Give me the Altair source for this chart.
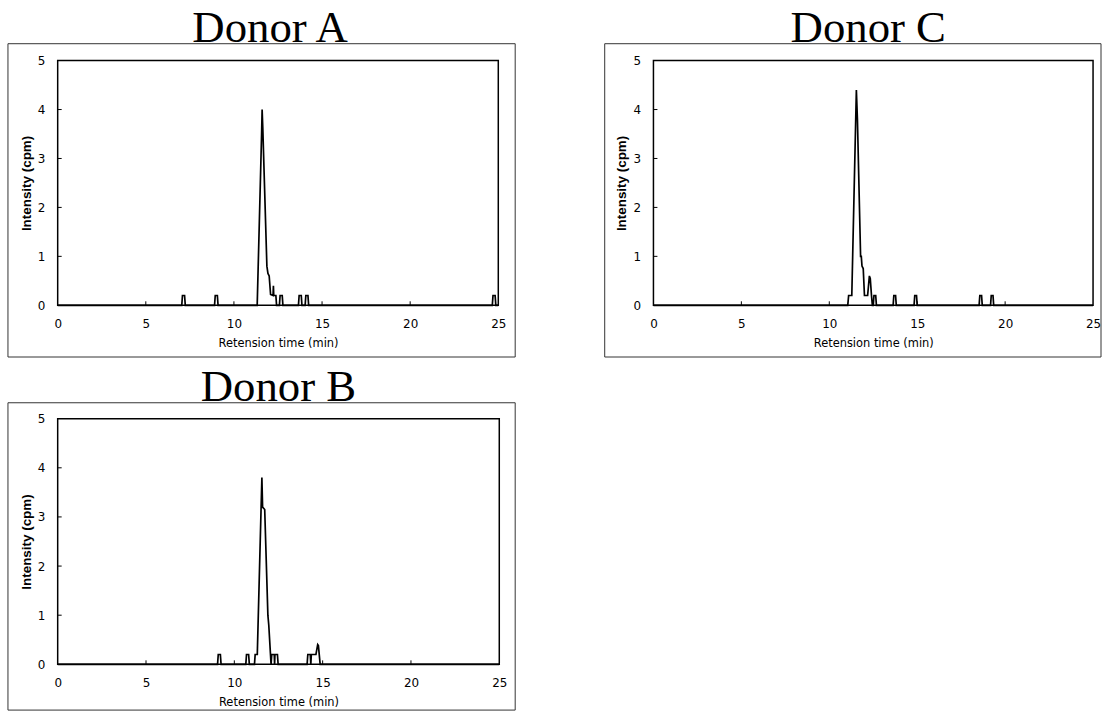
import altair as alt
import pandas as pd

# ---------------- data ----------------
X_TICKS = [0, 5, 10, 15, 20, 25]
Y_TICKS = [0, 1, 2, 3, 4, 5]
INNER_X_TICKS = [5, 10, 15, 20]
INNER_Y_TICKS = [1, 2, 3, 4]

a_time = [0, 7.04, 7.08, 7.2, 7.24, 8.9, 8.94, 9.06, 9.1, 11.32, 11.57, 11.6, 11.64,
          11.87, 11.93, 12.0, 12.08, 12.22, 12.24, 12.26, 12.38, 12.42, 12.58, 12.62,
          12.74, 12.78, 13.66, 13.7, 13.82, 13.86, 14.04, 14.08, 14.2, 14.24, 24.66,
          24.7, 24.82, 24.86, 25]
a_int = [0, 0, 0.2, 0.2, 0, 0, 0.2, 0.2, 0, 0, 3.5, 4.0, 3.6,
         0.8, 0.65, 0.6, 0.22, 0.2, 0.4, 0.2, 0.2, 0, 0, 0.2,
         0.2, 0, 0, 0.2, 0.2, 0, 0, 0.2, 0.2, 0, 0,
         0.2, 0.2, 0, 0]

c_time = [0, 11.05, 11.1, 11.28, 11.54, 11.6, 11.78, 11.82, 11.86, 11.93, 12.0, 12.18,
          12.28, 12.33, 12.4, 12.45, 12.5, 12.54, 12.64, 12.68, 13.63, 13.67, 13.77,
          13.81, 14.82, 14.86, 14.96, 15.0, 18.52, 18.56, 18.66, 18.7, 19.17, 19.21,
          19.31, 19.35, 25]
c_int = [0, 0, 0.2, 0.2, 4.4, 3.8, 1.0, 1.0, 0.8, 0.75, 0.2, 0.2,
         0.6, 0.55, 0.2, 0, 0, 0.2, 0.2, 0, 0, 0.2, 0.2,
         0, 0, 0.2, 0.2, 0, 0, 0.2, 0.2, 0, 0, 0.2,
         0.2, 0, 0]

b_time = [0, 9.05, 9.09, 9.21, 9.25, 10.65, 10.69, 10.81, 10.85, 11.14, 11.18, 11.3,
          11.56, 11.6, 11.72, 11.9, 11.95, 12.08, 12.12, 12.26, 12.28, 12.3, 12.44,
          12.48, 14.12, 14.16, 14.3, 14.33, 14.36, 14.62, 14.72, 14.76, 14.86, 25]
b_int = [0, 0, 0.2, 0.2, 0, 0, 0.2, 0.2, 0, 0, 0.2, 0.2,
         3.8, 3.2, 3.15, 1.0, 0.8, 0, 0.2, 0.2, 0, 0.2, 0.2,
         0, 0, 0.2, 0.2, 0, 0.2, 0.2, 0.4, 0.38, 0, 0]

LABEL_FONT = "DejaVu Sans"
TITLE_FONT = "Liberation Serif"


def panel(name, times, ints, width, height, border, title_dx):
    left, right, top, bottom = border
    df = pd.DataFrame({"t": times, "v": ints})
    xscale = alt.Scale(domain=[0, 25], nice=False, zero=False)
    yscale = alt.Scale(domain=[0, 5], nice=False)
    xaxis = alt.Axis(values=X_TICKS, title="Retension time (min)", format="d",
                     labelFlush=False)
    yaxis = alt.Axis(values=Y_TICKS, title="Intensity (cpm)", format="d",
                     labelFlush=False)
    line = alt.Chart(df).mark_line(color="black", strokeWidth=1.7).encode(
        x=alt.X("t:Q", scale=xscale, axis=xaxis),
        y=alt.Y("v:Q", scale=yscale, axis=yaxis),
    )
    xt = alt.Chart(pd.DataFrame({"t": INNER_X_TICKS})).mark_rule(
        color="black", strokeWidth=1).encode(
        x=alt.X("t:Q", scale=xscale, axis=xaxis),
        y=alt.value(height), y2=alt.value(height - 4))
    yt = alt.Chart(pd.DataFrame({"v": INNER_Y_TICKS})).mark_rule(
        color="black", strokeWidth=1).encode(
        y=alt.Y("v:Q", scale=yscale, axis=yaxis),
        x=alt.value(0), x2=alt.value(4))
    frame = alt.Chart(pd.DataFrame({"k": [0]})).mark_rect(
        fillOpacity=0, stroke="#333333", strokeWidth=1).encode(
        x=alt.value(left), x2=alt.value(width + right),
        y=alt.value(top), y2=alt.value(height + bottom))
    return alt.layer(line, xt, yt, frame).properties(
        width=width, height=height,
        title=alt.Title(name, font=TITLE_FONT, fontSize=45, fontWeight="normal",
                        color="black", anchor="middle", frame="group",
                        baseline="alphabetic", offset=-44, dx=title_dx),
    )


pa = panel("Donor A", a_time, a_int, 443, 246, (-50, 17, -17, 52), -8)
pc = panel("Donor C", c_time, c_int, 442, 246, (-49, 8, -17, 52), -5)
pb = panel("Donor B", b_time, b_int, 444, 247, (-50, 16, -16, 46), 0)

chart = alt.vconcat(
    alt.hconcat(pa, pc, spacing=86),
    pb,
    spacing=5,
).properties(
    padding={"left": 6, "top": 3, "right": 0, "bottom": 0}
).configure_view(
    stroke="black", strokeWidth=1.5
).configure_axis(
    domain=False, ticks=False, tickSize=0, grid=False,
    labelFont=LABEL_FONT, labelFontSize=12, labelColor="black",
    titleColor="black",
).configure_axisX(
    labelPadding=13, titlePadding=8, titleFont=LABEL_FONT,
    titleFontSize=11.5, titleFontWeight="normal",
).configure_axisY(
    labelPadding=13, titlePadding=4, titleFont="Liberation Sans",
    titleFontSize=13.5, titleFontWeight="bold",
)

chart.save("out.html", embed_options={"renderer": "svg", "actions": False})
